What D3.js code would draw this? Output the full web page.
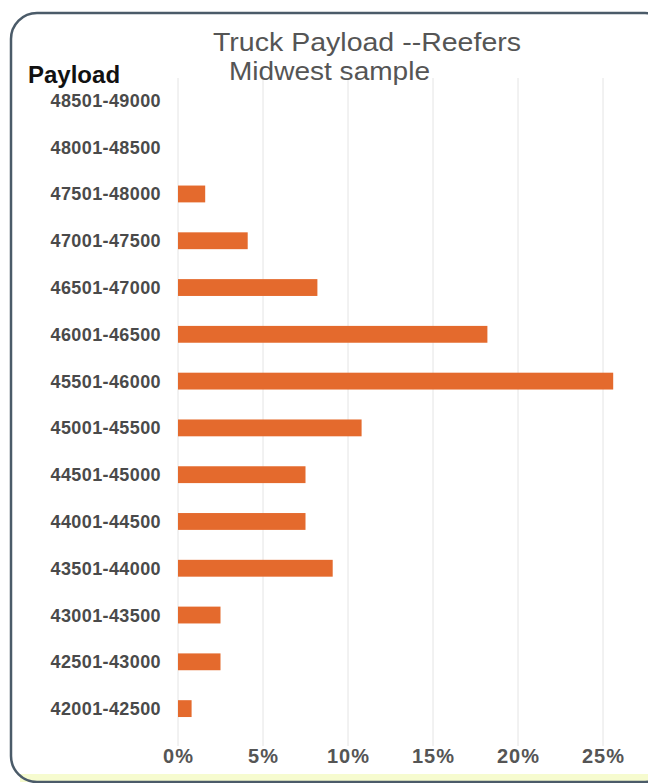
<!DOCTYPE html>
<html lang="en">
<head>
<meta charset="utf-8">
<title>Truck Payload --Reefers</title>
<script src="https://d3js.org/d3.v7.min.js"></script>
<style>
  body { margin: 0; background: #fff; }
  .title { font-family: "Liberation Sans", Arial, sans-serif; font-size: 26px; fill: #555; }
  .ylab { font-family: "Liberation Sans", Arial, sans-serif; font-size: 24px; font-weight: bold; fill: #111; }
  .cat { font-family: "Liberation Sans", Arial, sans-serif; font-size: 18px; font-weight: bold; fill: #4a4a4a; letter-spacing: 0.4px; }
  .tick text { font-family: "Liberation Sans", Arial, sans-serif; font-size: 20px; font-weight: bold; fill: #555; letter-spacing: 1px; }
</style>
</head>
<body>
<div id="vis"></div>
<script>
const categories = ["48501-49000", "48001-48500", "47501-48000", "47001-47500", "46501-47000",
  "46001-46500", "45501-46000", "45001-45500", "44501-45000", "44001-44500",
  "43501-44000", "43001-43500", "42501-43000", "42001-42500"];
const shares = [0, 0, 1.6, 4.1, 8.2, 18.2, 25.6, 10.8, 7.5, 7.5, 9.1, 2.5, 2.5, 0.8];
const xTicks = [0, 5, 10, 15, 20, 25];

const width = 648, height = 783;

const svg = d3.select("#vis").append("svg")
  .attr("width", width).attr("height", height);

// frame
svg.append("rect")
  .attr("x", 11).attr("y", 13).attr("width", 660).attr("height", 769)
  .attr("rx", 26).attr("fill", "#fff");
svg.append("rect")
  .attr("x", 20).attr("y", 774).attr("width", 640).attr("height", 8)
  .attr("fill", "#f6fbcf");
svg.append("rect")
  .attr("x", 11).attr("y", 13).attr("width", 660).attr("height", 769)
  .attr("rx", 26).attr("fill", "none")
  .attr("stroke", "#4b5b69").attr("stroke-width", 2.5);

const x = d3.scaleLinear().domain([0, 25]).range([178, 603]);
const y = d3.scaleBand().domain(categories).range([77, 732])
  .paddingInner(0.64).paddingOuter(0.32);

// gridlines
svg.append("g").selectAll("line")
  .data(xTicks).join("line")
  .attr("x1", d => x(d)).attr("x2", d => x(d))
  .attr("y1", 78).attr("y2", 746)
  .attr("stroke", "#e4e4e4").attr("stroke-width", 1);

// bars
svg.append("g").selectAll("rect")
  .data(categories.map((c, i) => ({ c, v: shares[i] })))
  .join("rect")
  .attr("x", x(0))
  .attr("y", d => y(d.c))
  .attr("width", d => x(d.v) - x(0))
  .attr("height", y.bandwidth())
  .attr("fill", "#e46a2d");

// x axis labels
const xAxis = d3.axisBottom(x).tickValues(xTicks).tickFormat(d => d + "%").tickSize(0).tickPadding(0);
const gx = svg.append("g").attr("transform", "translate(0,749)").call(xAxis);
gx.select(".domain").remove();

// category labels
svg.append("g").selectAll("text")
  .data(categories).join("text")
  .attr("class", "cat")
  .attr("x", 161)
  .attr("y", d => y(d) + y.bandwidth() / 2)
  .attr("dy", "0.36em")
  .attr("text-anchor", "end")
  .text(d => d);

svg.append("text").attr("class", "ylab")
  .attr("x", 28).attr("y", 83).text("Payload");

svg.append("text").attr("class", "title")
  .attr("x", 213).attr("y", 51)
  .attr("textLength", 308).attr("lengthAdjust", "spacingAndGlyphs")
  .text("Truck Payload --Reefers");
svg.append("text").attr("class", "title")
  .attr("x", 229).attr("y", 80)
  .attr("textLength", 201).attr("lengthAdjust", "spacingAndGlyphs")
  .text("Midwest sample");
</script>
</body>
</html>
